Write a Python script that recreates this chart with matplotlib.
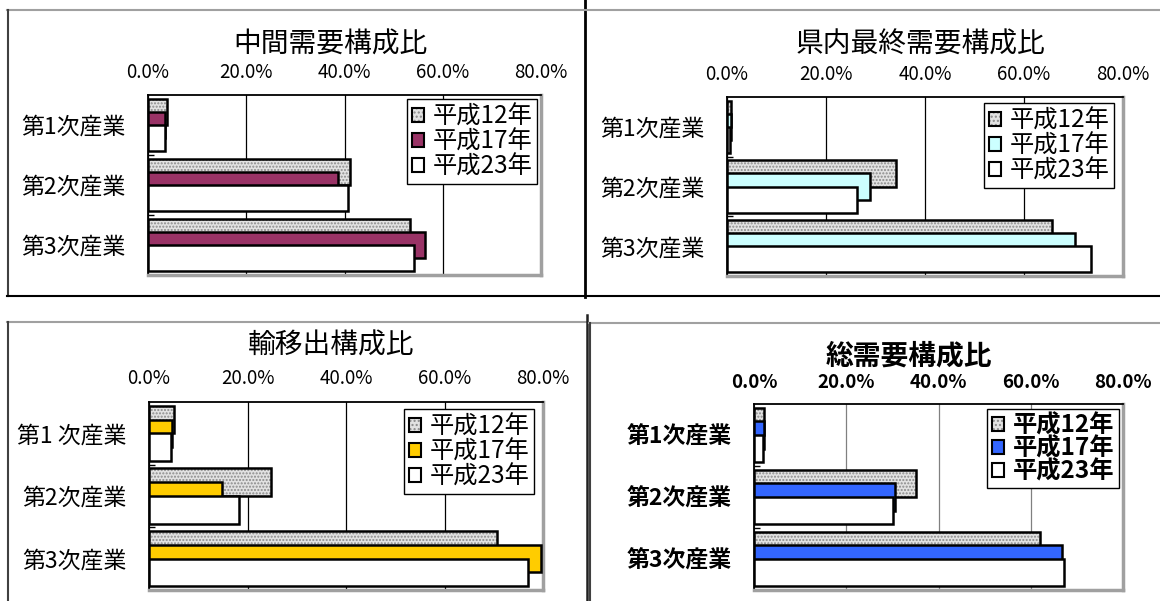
import matplotlib
matplotlib.use("Agg")
import matplotlib.pyplot as plt
from matplotlib.patches import Patch
from matplotlib.lines import Line2D
import numpy as np

plt.rcParams['font.family'] = ['Noto Sans CJK JP', 'DejaVu Sans']

categories = ["第1次産業", "第2次産業", "第3次産業"]
categories_p3 = ["第1 次産業", "第2次産業", "第3次産業"]
series_names = ["平成12年", "平成17年", "平成23年"]
xticks = [0, 20, 40, 60, 80]

titles = ["中間需要構成比", "県内最終需要構成比", "輸移出構成比", "総需要構成比"]

# values (%), per panel: H12, H17, H23 for 第1/第2/第3
chukan_h12 = [3.9, 41.1, 53.4]
chukan_h17 = [3.4, 38.6, 56.4]
chukan_h23 = [3.4, 40.8, 54.1]

kennai_h12 = [0.8, 34.1, 65.6]
kennai_h17 = [0.8, 28.9, 70.4]
kennai_h23 = [0.6, 26.3, 73.5]

yuishutsu_h12 = [5.0, 24.8, 70.6]
yuishutsu_h17 = [4.7, 14.8, 79.6]
yuishutsu_h23 = [4.5, 18.3, 77.0]

sou_h12 = [2.2, 35.2, 62.1]
sou_h17 = [2.1, 30.5, 66.7]
sou_h23 = [2.0, 30.1, 67.2]

h17_colors = ["#993366", "#CCFFFF", "#FFCC00", "#3366FF"]

W, H = 1160, 601
fig = plt.figure(figsize=(W / 100, H / 100), dpi=100)


def fr(x0, y0, x1, y1):
    return [x0 / W, 1 - y1 / H, (x1 - x0) / W, (y1 - y0) / H]


def fline(x0, y0, x1, y1, color, lw):
    fig.add_artist(Line2D([x0 / W, x1 / W], [1 - y0 / H, 1 - y1 / H],
                          color=color, lw=lw, transform=fig.transFigure))


panels = [
    dict(rect=(148, 95, 541, 275), data=(chukan_h12, chukan_h17, chukan_h23),
         title_y=45, title_x=330, leg=(407, 99), cats=categories, bold=False,
         gridc="black"),
    dict(rect=(727, 97, 1123, 276), data=(kennai_h12, kennai_h17, kennai_h23),
         title_y=45, title_x=920, leg=(984, 103), cats=categories, bold=False,
         gridc="black"),
    dict(rect=(149, 402, 543, 590), data=(yuishutsu_h12, yuishutsu_h17, yuishutsu_h23),
         title_y=346, title_x=331, leg=(404, 409), cats=categories_p3, bold=False,
         gridc="black"),
    dict(rect=(754, 404, 1123, 590), data=(sou_h12, sou_h17, sou_h23),
         title_y=356, title_x=909, leg=(987, 409), cats=categories, bold=True,
         gridc="#808080"),
]

h = 0.44
offsets = [-h / 2, 0.0, h / 2]
ypos = np.arange(len(categories))

for i, p in enumerate(panels):
    x0, y0, x1, y1 = p["rect"]
    ax = fig.add_axes(fr(x0, y0, x1, y1))
    d12, d17, d23 = p["data"]
    fw = "bold" if p["bold"] else "normal"

    # H12: hatched gray
    ax.barh(ypos + offsets[0], d12, height=h, facecolor="#e2e2e2", edgecolor="#8a8a8a",
            hatch=".....", lw=0, zorder=2)
    ax.barh(ypos + offsets[0], d12, height=h, fill=False, edgecolor="black", lw=1.8, zorder=2.1)
    # H17
    ax.barh(ypos + offsets[1], d17, height=h, facecolor=h17_colors[i], edgecolor="black",
            lw=1.8, zorder=3)
    # H23
    ax.barh(ypos + offsets[2], d23, height=h, facecolor="white", edgecolor="black",
            lw=1.8, zorder=4)

    ax.set_xlim(0, 80)
    ax.set_ylim(2.5, -0.5)
    ax.set_xticks(xticks)
    ax.set_xticklabels([f"{v:.1f}%" for v in xticks], fontsize=13.5, fontweight=fw)
    ax.xaxis.tick_top()
    ax.tick_params(axis="x", length=0, pad=9)
    ax.set_yticks(ypos)
    ax.set_yticklabels(p["cats"], fontsize=16.5, fontweight=fw)
    ax.tick_params(axis="y", length=0, pad=16)
    ax.set_yticks([0.5, 1.5, 2.5], minor=True)
    ax.tick_params(axis="y", which="minor", length=4, direction="in", width=1)
    ax.grid(axis="x", color=p["gridc"], lw=0.9)
    ax.set_axisbelow(True)
    for s in ["top", "left"]:
        ax.spines[s].set_color("black")
        ax.spines[s].set_linewidth(1.3)
    for s in ["right", "bottom"]:
        ax.spines[s].set_color("#a0a0a0")
        ax.spines[s].set_linewidth(2.5)

    fig.text(p["title_x"] / W, 1 - p["title_y"] / H, titles[i], fontsize=20,
             fontweight=fw, ha="center", va="center")

    handles = [
        (Patch(facecolor="#e2e2e2", edgecolor="#8a8a8a", hatch="....", lw=0),
         Patch(fill=False, edgecolor="black", lw=1.5)),
        Patch(facecolor=h17_colors[i], edgecolor="black", lw=1.5),
        Patch(facecolor="white", edgecolor="black", lw=1.5),
    ]
    lx, ly = p["leg"]
    leg = ax.legend(handles, series_names, loc="upper left",
                    bbox_to_anchor=(lx / W, 1 - ly / H), bbox_transform=fig.transFigure,
                    borderaxespad=0, fancybox=False, shadow=False, framealpha=1,
                    edgecolor="black", handlelength=0.5, handleheight=0.5,
                    handletextpad=0.35, labelspacing=-0.05, borderpad=0.2,
                    prop={"weight": fw, "size": 17.5})
    leg.get_frame().set_linewidth(1.0)
    leg.set_zorder(10)

# panel borders
fline(7, 10, 585, 10, "#a0a0a0", 1.5)
fline(7.5, 10, 7.5, 296, "#404040", 1.5)
fline(7, 296, 1160, 296, "black", 1.5)
fline(585, 0, 585, 297, "black", 2.0)
fline(585, 10, 1160, 10, "#a0a0a0", 1.5)
fline(7, 322, 587, 322, "#a0a0a0", 1.5)
fline(7.5, 322, 7.5, 601, "#404040", 1.5)
fline(587, 315, 587, 601, "#202020", 1.8)
fline(589, 323, 1160, 323, "#a0a0a0", 1.5)
fline(589.5, 323, 589.5, 601, "#404040", 1.5)

fig.savefig("out.png", dpi=100)
